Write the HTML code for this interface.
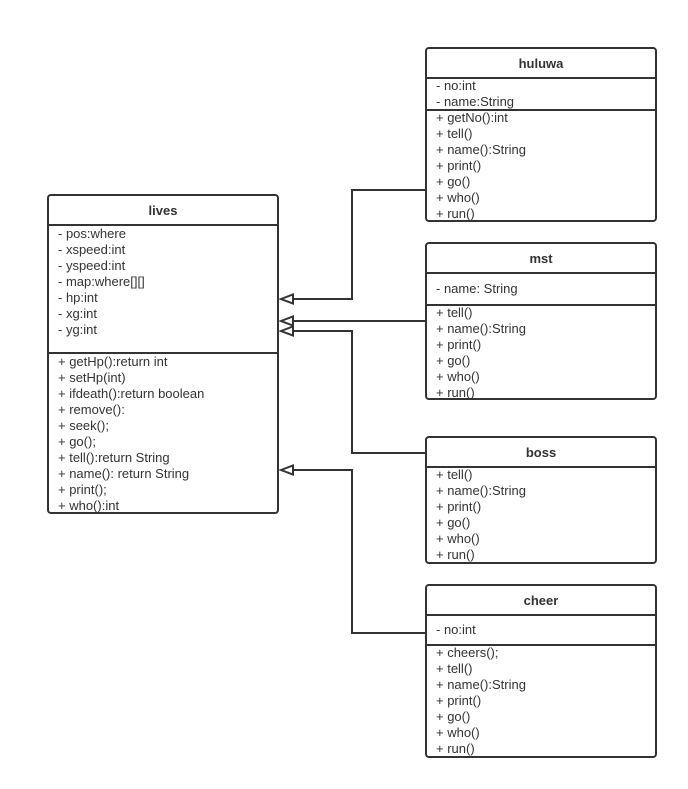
<!DOCTYPE html>
<html><head><meta charset="utf-8"><style>
html,body{margin:0;padding:0;background:#fff;}
svg{display:block;}
text{font-family:"Liberation Sans","DejaVu Sans",sans-serif;font-size:13px;fill:#333;}
.h{font-weight:bold;text-anchor:middle;}
</style></head><body>
<svg width="688" height="789" viewBox="0 0 688 789" xmlns="http://www.w3.org/2000/svg">
<g fill="none" stroke="#333" stroke-width="2">
<polyline points="426,190 352,190 352,299 293,299"/>
<polyline points="426,321 293,321"/>
<polyline points="426,453 352,453 352,331 293,331"/>
<polyline points="426,633 352,633 352,470 293,470"/>
<polygon points="281,299 293,294.5 293,303.5" fill="#fff"/>
<polygon points="281,321 293,316.5 293,325.5" fill="#fff"/>
<polygon points="281,331 293,326.5 293,335.5" fill="#fff"/>
<polygon points="281,470 293,465.5 293,474.5" fill="#fff"/>
<rect x="48" y="195" width="230" height="318" rx="3" fill="#fff"/>
<line x1="48" y1="225" x2="278" y2="225"/>
<line x1="48" y1="353" x2="278" y2="353"/>
<rect x="426" y="48" width="230" height="173" rx="3" fill="#fff"/>
<line x1="426" y1="78" x2="656" y2="78"/>
<line x1="426" y1="110" x2="656" y2="110"/>
<rect x="426" y="243" width="230" height="156" rx="3" fill="#fff"/>
<line x1="426" y1="273" x2="656" y2="273"/>
<line x1="426" y1="305" x2="656" y2="305"/>
<rect x="426" y="437" width="230" height="126" rx="3" fill="#fff"/>
<line x1="426" y1="467" x2="656" y2="467"/>
<rect x="426" y="585" width="230" height="172" rx="3" fill="#fff"/>
<line x1="426" y1="615" x2="656" y2="615"/>
<line x1="426" y1="645" x2="656" y2="645"/>
</g>
<text class="h" x="163" y="215">lives</text>
<text x="58" y="238">- pos:where</text>
<text x="58" y="254">- xspeed:int</text>
<text x="58" y="270">- yspeed:int</text>
<text x="58" y="286">- map:where[][]</text>
<text x="58" y="302">- hp:int</text>
<text x="58" y="318">- xg:int</text>
<text x="58" y="334">- yg:int</text>
<text x="58" y="366">+ getHp():return int</text>
<text x="58" y="382">+ setHp(int)</text>
<text x="58" y="398">+ ifdeath():return boolean</text>
<text x="58" y="414">+ remove():</text>
<text x="58" y="430">+ seek();</text>
<text x="58" y="446">+ go();</text>
<text x="58" y="462">+ tell():return String</text>
<text x="58" y="478">+ name(): return String</text>
<text x="58" y="494">+ print();</text>
<text x="58" y="510">+ who():int</text>

<text class="h" x="541" y="68">huluwa</text>
<text x="436" y="90">- no:int</text>
<text x="436" y="106">- name:String</text>
<text x="436" y="122">+ getNo():int</text>
<text x="436" y="138">+ tell()</text>
<text x="436" y="154">+ name():String</text>
<text x="436" y="170">+ print()</text>
<text x="436" y="186">+ go()</text>
<text x="436" y="202">+ who()</text>
<text x="436" y="218">+ run()</text>

<text class="h" x="541" y="263">mst</text>
<text x="436" y="293">- name: String</text>
<text x="436" y="317">+ tell()</text>
<text x="436" y="333">+ name():String</text>
<text x="436" y="349">+ print()</text>
<text x="436" y="365">+ go()</text>
<text x="436" y="381">+ who()</text>
<svg x="426" y="243" width="230" height="155" overflow="hidden"><text x="10" y="154">+ run()</text></svg>

<text class="h" x="541" y="457">boss</text>
<text x="436" y="479">+ tell()</text>
<text x="436" y="495">+ name():String</text>
<text x="436" y="511">+ print()</text>
<text x="436" y="527">+ go()</text>
<text x="436" y="543">+ who()</text>
<text x="436" y="559">+ run()</text>

<text class="h" x="541" y="605">cheer</text>
<text x="436" y="634">- no:int</text>
<text x="436" y="657">+ cheers();</text>
<text x="436" y="673">+ tell()</text>
<text x="436" y="689">+ name():String</text>
<text x="436" y="705">+ print()</text>
<text x="436" y="721">+ go()</text>
<text x="436" y="737">+ who()</text>
<text x="436" y="753">+ run()</text>
</svg>
</body></html>
